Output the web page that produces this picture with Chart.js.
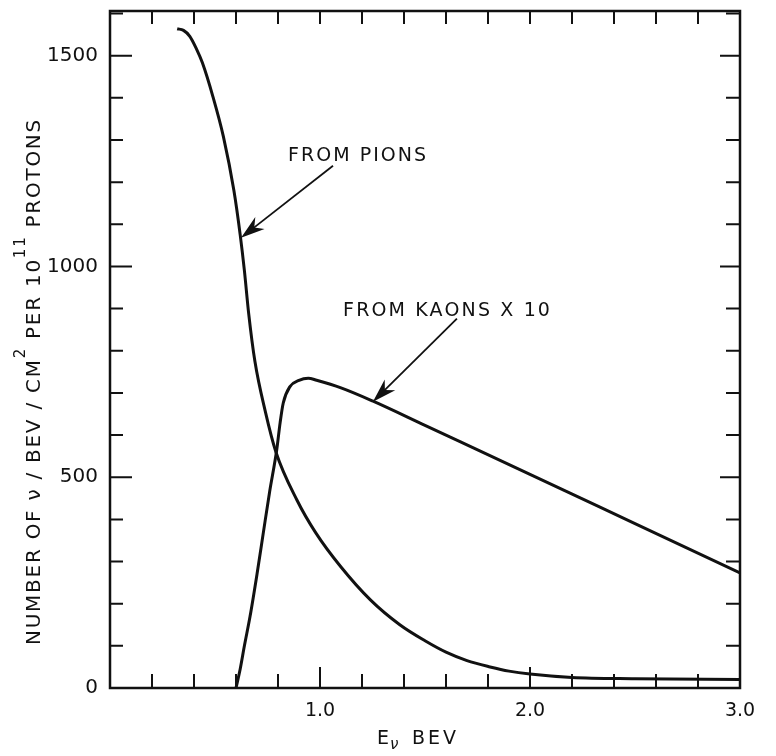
<!DOCTYPE html>
<html>
<head>
<meta charset="utf-8">
<script src="https://cdn.jsdelivr.net/npm/chart.js@4.4.0/dist/chart.umd.min.js"></script>
<style>
  html, body { margin: 0; padding: 0; background: #fff; }
  canvas { display: block; }
</style>
</head>
<body>
<canvas id="fluxChart" width="776" height="756"></canvas>
<script>
// Neutrino flux from pion decay (per BeV per cm2 per 10^11 protons)
const pionEnergy = [0.32, 0.35, 0.38, 0.41, 0.44, 0.49, 0.54, 0.59, 0.62, 0.64, 0.66, 0.69, 0.74, 0.79, 0.89, 0.98, 1.10, 1.24, 1.38, 1.50, 1.60, 1.70, 1.81, 1.90, 2.00, 2.20, 2.50, 3.00];
const pionFlux   = [1564, 1560, 1546, 1518, 1483, 1403, 1308, 1180, 1075, 990, 890, 775, 655, 560, 446, 368, 287, 209, 150, 112, 85, 65, 50, 40, 33, 25, 22, 20];

// Flux from kaon decay, already multiplied by 10
const kaonEnergy = [0.60, 0.62, 0.64, 0.667, 0.70, 0.73, 0.76, 0.794, 0.81, 0.825, 0.857, 0.90, 0.944, 0.984, 1.10, 1.25, 1.50, 2.00, 2.50, 3.00];
const kaonFlux   = [0, 45, 100, 170, 270, 368, 465, 565, 629, 676, 715, 730, 735, 730, 712, 681, 623, 507, 390, 273];

const xTicks = [0.2, 0.4, 0.6, 0.8, 1.0, 1.2, 1.4, 1.6, 1.8, 2.0, 2.2, 2.4, 2.6, 2.8, 3.0];
const yTicks = [0, 100, 200, 300, 400, 500, 600, 700, 800, 900, 1000, 1100, 1200, 1300, 1400, 1500, 1600];
const xTickLabels = ['1.0', '2.0', '3.0'];
const yTickLabels = ['0', '500', '1000', '1500'];

// label text and where the arrows point (data units)
const notes = [
  { text: 'FROM PIONS', at: [0.848, 1251], width: 140, from: [1.062, 1239], to: [0.624, 1068] },
  { text: 'FROM KAONS X 10', at: [1.11, 883], width: 209, from: [1.652, 876], to: [1.252, 679] }
];

const INK = '#111';
const FONT = '"DejaVu Sans", sans-serif';

function toPoints(xs, ys) {
  return xs.map((x, i) => ({ x: x, y: ys[i] }));
}

// spread a string over a given width
function fitSpacing(ctx, text, width) {
  ctx.letterSpacing = '0px';
  const w = ctx.measureText(text).width;
  return (width - w) / text.length;
}

function drawArrow(ctx, x1, y1, x2, y2) {
  const ang = Math.atan2(y2 - y1, x2 - x1);
  const c = Math.cos(ang), s = Math.sin(ang);
  const len = 24, half = 7.5;
  ctx.lineWidth = 1.8;
  ctx.beginPath();
  ctx.moveTo(x1, y1);
  ctx.lineTo(x2 - c * len * 0.6, y2 - s * len * 0.6);
  ctx.stroke();
  ctx.beginPath();
  ctx.moveTo(x2, y2);
  ctx.lineTo(x2 - c * len - s * half, y2 - s * len + c * half);
  ctx.lineTo(x2 - c * len * 0.7, y2 - s * len * 0.7);
  ctx.lineTo(x2 - c * len + s * half, y2 - s * len - c * half);
  ctx.closePath();
  ctx.fill();
}

const framePlugin = {
  id: 'frame',
  afterDraw(chart) {
    const ctx = chart.ctx;
    const a = chart.chartArea;
    const xs = chart.scales.x, ys = chart.scales.y;
    ctx.save();
    ctx.strokeStyle = INK;
    ctx.fillStyle = INK;

    // box
    ctx.lineWidth = 2.5;
    ctx.strokeRect(a.left, a.top, a.right - a.left, a.bottom - a.top);

    // inward ticks on all four sides
    ctx.lineWidth = 2;
    ctx.beginPath();
    xs.ticks.forEach(t => {
      const px = xs.getPixelForValue(t.value);
      if (px <= a.left + 1 || px >= a.right - 1) return;
      const major = xTickLabels.includes(t.value.toFixed(1));
      ctx.moveTo(px, a.bottom);
      ctx.lineTo(px, a.bottom - (major ? 21 : 14));
      ctx.moveTo(px, a.top);
      ctx.lineTo(px, a.top + 13);
    });
    ys.ticks.forEach(t => {
      const py = ys.getPixelForValue(t.value);
      if (py >= a.bottom - 1 || py <= a.top + 1) return;
      const major = yTickLabels.includes(String(t.value));
      ctx.moveTo(a.left, py);
      ctx.lineTo(a.left + (major ? 22 : 13), py);
      ctx.moveTo(a.right, py);
      ctx.lineTo(a.right - (major ? 20 : 14), py);
    });
    ctx.stroke();

    // annotations
    ctx.font = '19px ' + FONT;
    ctx.textBaseline = 'alphabetic';
    notes.forEach(n => {
      ctx.letterSpacing = fitSpacing(ctx, n.text, n.width) + 'px';
      ctx.fillText(n.text, xs.getPixelForValue(n.at[0]), ys.getPixelForValue(n.at[1]));
      ctx.letterSpacing = '0px';
      drawArrow(ctx, xs.getPixelForValue(n.from[0]), ys.getPixelForValue(n.from[1]),
                xs.getPixelForValue(n.to[0]), ys.getPixelForValue(n.to[1]));
    });

    // x axis title: E with subscript nu, then BEV
    ctx.font = '19px ' + FONT;
    ctx.letterSpacing = '0px';
    ctx.fillText('E', 377, 744);
    ctx.font = 'italic 15px ' + FONT;
    ctx.fillText('ν', 390, 749);
    ctx.font = '19px ' + FONT;
    ctx.letterSpacing = '3px';
    ctx.fillText('BEV', 412, 744);

    // y axis title, rotated, with superscripts
    const parts = [
      { t: 'NUMBER OF ν / BEV / CM' },
      { t: '2', sup: true },
      { t: ' PER 10' },
      { t: '11', sup: true },
      { t: ' PROTONS' }
    ];
    const mainFont = '20px ' + FONT, supFont = '15px ' + FONT;
    ctx.letterSpacing = '0px';
    let natural = 0, count = 0;
    parts.forEach(p => {
      ctx.font = p.sup ? supFont : mainFont;
      p.w = ctx.measureText(p.t).width;
      natural += p.w;
      count += p.t.length;
    });
    const spacing = (527 - natural) / count;
    ctx.translate(40, 645);
    ctx.rotate(-Math.PI / 2);
    let pos = 0;
    parts.forEach(p => {
      ctx.font = p.sup ? supFont : mainFont;
      ctx.letterSpacing = spacing + 'px';
      ctx.fillText(p.t, pos, p.sup ? -15 : 0);
      pos += p.w + spacing * p.t.length;
    });
    ctx.restore();
  }
};

const lineStyle = {
  showLine: true,
  borderColor: INK,
  borderWidth: 3,
  pointRadius: 0,
  fill: false,
  cubicInterpolationMode: 'monotone'
};

new Chart(document.getElementById('fluxChart'), {
  type: 'scatter',
  data: {
    datasets: [
      Object.assign({ label: 'From pions', data: toPoints(pionEnergy, pionFlux) }, lineStyle),
      Object.assign({ label: 'From kaons x 10', data: toPoints(kaonEnergy, kaonFlux) }, lineStyle)
    ]
  },
  options: {
    responsive: false,
    animation: false,
    layout: { padding: { top: 11, right: 36, left: 0, bottom: 0 } },
    plugins: { legend: { display: false }, tooltip: { enabled: false } },
    scales: {
      x: {
        type: 'linear',
        min: 0,
        max: 3,
        afterBuildTicks(scale) { scale.ticks = xTicks.map(v => ({ value: v })); },
        afterFit(scale) { scale.height = 68; scale.paddingLeft = 0; scale.paddingRight = 0; },
        grid: { display: false, drawTicks: false },
        border: { display: false },
        ticks: {
          autoSkip: false,
          maxRotation: 0,
          padding: 12,
          color: INK,
          font: { family: FONT, size: 19 },
          callback: v => xTickLabels.includes(Number(v).toFixed(1)) ? Number(v).toFixed(1) : ''
        }
      },
      y: {
        type: 'linear',
        min: 0,
        max: 1606,
        afterBuildTicks(scale) { scale.ticks = yTicks.map(v => ({ value: v })); },
        afterFit(scale) { scale.width = 110; scale.paddingTop = 0; scale.paddingBottom = 0; },
        grid: { display: false, drawTicks: false },
        border: { display: false },
        ticks: {
          autoSkip: false,
          padding: 12,
          color: INK,
          font: { family: FONT, size: 20 },
          callback: v => yTickLabels.includes(String(v)) ? String(v) : ''
        }
      }
    }
  },
  plugins: [framePlugin]
});
</script>
</body>
</html>
